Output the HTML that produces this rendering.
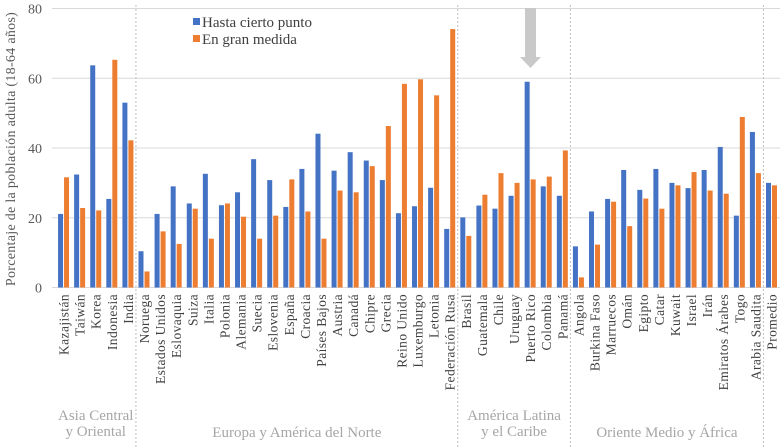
<!DOCTYPE html>
<html><head><meta charset="utf-8"><style>
html,body{margin:0;padding:0;background:#fff;}
svg{display:block;font-family:"Liberation Serif",serif;}
</style></head><body>
<svg id="chart" width="780" height="447" viewBox="0 0 780 447">
<g id="grid"></g>
<g id="yticks"></g>
<text transform="translate(15,149) rotate(-90)" text-anchor="middle" font-size="14" letter-spacing="0.3" fill="#595959">Porcentaje de la población adulta (18-64 años)</text>
<g id="seps"></g>
<g id="bars"></g>
<g id="xlabels"></g>
<g id="groups"></g>
<g><polygon points="525,8 536,8 536,57 541,57 530.5,68 520,57 525,57" fill="#c9c9c9"/></g>
<g>
<rect x="193" y="18" width="7" height="7" fill="#4472c4"/>
<text x="202" y="27" font-size="15" fill="#404040">Hasta cierto punto</text>
<rect x="193" y="35" width="7" height="7" fill="#ed7d31"/>
<text x="202" y="44" font-size="15" fill="#404040">En gran medida</text>
</g>
</svg>
<script>
const categories=["Kazajistán","Taiwán","Korea","Indonesia","India","Noruega","Estados Unidos","Eslovaquia","Suiza","Italia","Polonia","Alemania","Suecia","Eslovenia","España","Croacia","Países Bajos","Austria","Canadá","Chipre","Grecia","Reino Unido","Luxemburgo","Letonia","Federación Rusa","Brasil","Guatemala","Chile","Uruguay","Puerto Rico","Colombia","Panamá","Angola","Burkina Faso","Marruecos","Omán","Egipto","Catar","Kuwait","Israel","Irán","Emiratos Árabes","Togo","Arabia Saudita","Promedio"];
const hastaCierto=[21.1,32.4,63.7,25.4,53,10.4,21.1,29,24.1,32.6,23.6,27.3,36.8,30.8,23.1,34,44.1,33.5,38.8,36.4,30.8,21.3,23.3,28.6,16.8,20.1,23.5,22.6,26.3,59,29,26.3,11.8,21.8,25.4,33.7,28,34,30,28.5,33.7,40.3,20.6,44.6,30];
const granMedida=[31.6,22.8,22.1,65.3,42.2,4.6,16.1,12.5,22.6,14,24.1,20.3,14,20.6,31,21.8,14,27.8,27.3,34.8,46.3,58.4,59.7,55.1,74.1,14.8,26.6,32.8,30,31,31.8,39.3,2.9,12.3,24.6,17.6,25.5,22.6,29.3,33.1,27.8,26.9,48.9,32.8,29.3];
const yTicks=[0,20,40,60,80];
const groupSizes=[5,20,7,12,1];
const groupNames=[["Asia Central","y Oriental"],["Europa y América del Norte"],["América Latina","y el Caribe"],["Oriente Medio y África"],[]];
const NS="http://www.w3.org/2000/svg";
const y0=287.5,yTop=8.5,x0=55.5,step=16.09;
const ys=v=>y0-(v/80)*(y0-yTop);
const xc=i=>x0+(i+0.5)*step;
function el(t,a,p){const e=document.createElementNS(NS,t);for(const k in a)e.setAttribute(k,a[k]);p.appendChild(e);return e;}
const grid=document.getElementById('grid'),yt=document.getElementById('yticks');
yTicks.forEach(v=>{
 const l=el('line',{x1:52,x2:780,y1:ys(v),y2:ys(v),stroke:'#d9d9d9','stroke-width':1},grid);
 
 
 const t=el('text',{x:42,y:ys(v)+5,'text-anchor':'end','font-size':14,fill:'#595959'},yt);
 t.textContent=v;
 
 
});
const bars=document.getElementById('bars'),xl=document.getElementById('xlabels');
categories.forEach((c,i)=>{
 const cx=xc(i);
 const b=el('rect',{x:cx-5.5,y:ys(hastaCierto[i]),width:5,height:y0-ys(hastaCierto[i]),fill:'#4472c4'},bars);
 
 
 const o=el('rect',{x:cx+0.5,y:ys(granMedida[i]),width:5,height:y0-ys(granMedida[i]),fill:'#ed7d31'},bars);
 
 
 const t=el('text',{transform:`translate(${cx+5},294) rotate(-90)`,'text-anchor':'end','font-size':13.5,'letter-spacing':0.4,fill:'#404040'},xl);
 t.textContent=c;
 
 
});
const seps=document.getElementById('seps'),gl=document.getElementById('groups');
let start=0;
groupSizes.forEach((n,g)=>{
 if(g>0){const sx=x0+start*step;
  const s=el('line',{x1:sx,x2:sx,y1:5,y2:447,stroke:'#bfbfbf','stroke-width':1,'stroke-dasharray':'2,2'},seps);
  
  }
 const mid=x0+(start+n/2)*step;
 const lines=groupNames[g];
 lines.forEach((ln,k)=>{
  const yy=lines.length===2?420+k*16:437;
  const t=el('text',{x:mid,y:yy,'text-anchor':'middle','font-size':15,fill:'#a6a6a6'},gl);
  t.textContent=ln;
  
  
 });
 start+=n;
});
</script>
</body></html>
